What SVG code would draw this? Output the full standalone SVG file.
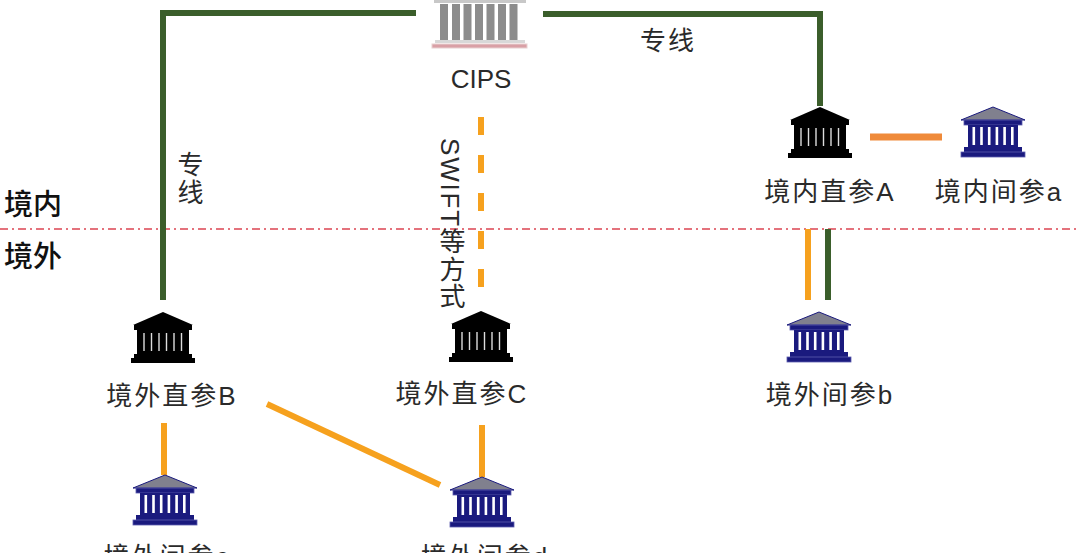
<svg xmlns="http://www.w3.org/2000/svg" xmlns:xlink="http://www.w3.org/1999/xlink" width="1080" height="553" viewBox="0 0 1080 553">
<style>
.g{stroke:#3b5e2b;stroke-width:6;fill:none}
.o{stroke:#f6a11e;stroke-width:6;fill:none}
.oa{stroke:#ef8a3a;stroke-width:7;fill:none}
.t{font-family:"Liberation Sans","Noto Sans CJK SC",sans-serif;font-size:26px;fill:#2a2a2a;letter-spacing:2px}
.b{font-family:"Noto Sans CJK SC",sans-serif;font-size:29px;font-weight:500;fill:#111}
.v{writing-mode:vertical-rl;letter-spacing:1.8px}
</style>
<defs>
<g id="blk">
<polygon points="0,0 -30,13 30,13" fill="#000"/>
<rect x="-29" y="13" width="58" height="5" fill="#000"/>
<rect x="-26" y="18" width="52" height="24" fill="#000"/>
<g stroke="#ddd" stroke-width="1.4">
<line x1="-19" y1="21" x2="-19" y2="39"/>
<line x1="-11.5" y1="21" x2="-11.5" y2="39"/>
<line x1="-4" y1="21" x2="-4" y2="39"/>
<line x1="3.5" y1="21" x2="3.5" y2="39"/>
<line x1="11" y1="21" x2="11" y2="39"/>
<line x1="18.5" y1="21" x2="18.5" y2="39"/>
</g>
<rect x="-29" y="42" width="58" height="4" fill="#000"/>
<rect x="-32" y="46" width="64" height="5" fill="#000"/>
</g>
<g id="blu">
<polygon points="0,0 -32,13 32,13" fill="#80808e" stroke="#1a1a7e" stroke-width="1"/>
<rect x="-29" y="13" width="58" height="5" fill="#1a1a7e" stroke="#5c5cae" stroke-width="0.8"/>
<rect x="-25" y="18" width="50" height="22" fill="#1a1a7e"/>
<g fill="#fff">
<rect x="-20.5" y="20" width="2.6" height="18"/>
<rect x="-12.8" y="20" width="2.6" height="18"/>
<rect x="-5.1" y="20" width="2.6" height="18"/>
<rect x="2.6" y="20" width="2.6" height="18"/>
<rect x="10.3" y="20" width="2.6" height="18"/>
<rect x="18" y="20" width="2.6" height="18"/>
</g>
<rect x="-29" y="40" width="58" height="5" fill="#1a1a7e"/>
<rect x="-32" y="45" width="64" height="5" fill="#1a1a7e" stroke="#5c5cae" stroke-width="0.8"/>
</g>
</defs>
<rect width="1080" height="553" fill="#fff"/>
<g id="border-line">
<line x1="0" y1="229" x2="1080" y2="229" stroke="#dc4452" stroke-width="1.6" stroke-dasharray="8 4 2 4"/>
<text class="b" x="4" y="215">境内</text>
<text class="b" x="4" y="267">境外</text>
</g>
<g id="connectors">
<path class="g" d="M163,300 V13 H416"/>
<path class="g" d="M543,14 H820 V106"/>
<line class="o" x1="481" y1="117" x2="481" y2="290" stroke-dasharray="18 20"/>
<line class="oa" x1="870" y1="137" x2="942" y2="137"/>
<line class="o" x1="808" y1="229" x2="808" y2="300"/>
<line class="g" x1="828" y1="229" x2="828" y2="300"/>
<line class="o" x1="164" y1="423" x2="164" y2="475"/>
<line class="o" x1="482" y1="425" x2="482" y2="477"/>
<line class="o" x1="267" y1="404" x2="440" y2="485"/>
<text class="t" x="640" y="50">专线</text>
<text class="t v" x="188" y="151">专线</text>
<text class="t v" x="450" y="138">SWIFT等方式</text>
</g>
<g id="cips">
<rect x="434" y="0" width="92" height="3" fill="#c8c8c8"/>
<g fill="#8c8c8c">
<rect x="440" y="4" width="8" height="36"/>
<rect x="452" y="4" width="8" height="36"/>
<rect x="463.5" y="4" width="8" height="36"/>
<rect x="475" y="4" width="8" height="36"/>
<rect x="486.5" y="4" width="8" height="36"/>
<rect x="498" y="4" width="8" height="36"/>
<rect x="509.5" y="4" width="8" height="36"/>
</g>
<rect x="435" y="40" width="90" height="3" fill="#d8d8d8"/>
<rect x="432" y="44" width="95" height="4" fill="#d9a0a6" stroke="#e8d0d0" stroke-width="1"/>
<text class="t" x="481" y="88" text-anchor="middle" font-size="28" fill="#111" style="letter-spacing:0">CIPS</text>
</g>
<g id="direct-A">
<use xlink:href="#blk" x="820" y="107"/>
<text class="t" x="830" y="201" text-anchor="middle">境内直参A</text>
</g>
<g id="indirect-a">
<use xlink:href="#blu" x="993" y="107"/>
<text class="t" x="999" y="201" text-anchor="middle">境内间参a</text>
</g>
<g id="indirect-b">
<use xlink:href="#blu" x="819" y="312"/>
<text class="t" x="830" y="404" text-anchor="middle">境外间参b</text>
</g>
<g id="direct-B">
<use xlink:href="#blk" x="163" y="312"/>
<text class="t" x="172" y="405" text-anchor="middle">境外直参B</text>
</g>
<g id="direct-C">
<use xlink:href="#blk" x="481" y="311"/>
<text class="t" x="462" y="403" text-anchor="middle">境外直参C</text>
</g>
<g id="indirect-c">
<use xlink:href="#blu" x="165" y="475"/>
<text class="t" x="167" y="566" text-anchor="middle">境外间参c</text>
</g>
<g id="indirect-d">
<use xlink:href="#blu" x="482" y="477"/>
<text class="t" x="485" y="566" text-anchor="middle">境外间参d</text>
</g>
</svg>
